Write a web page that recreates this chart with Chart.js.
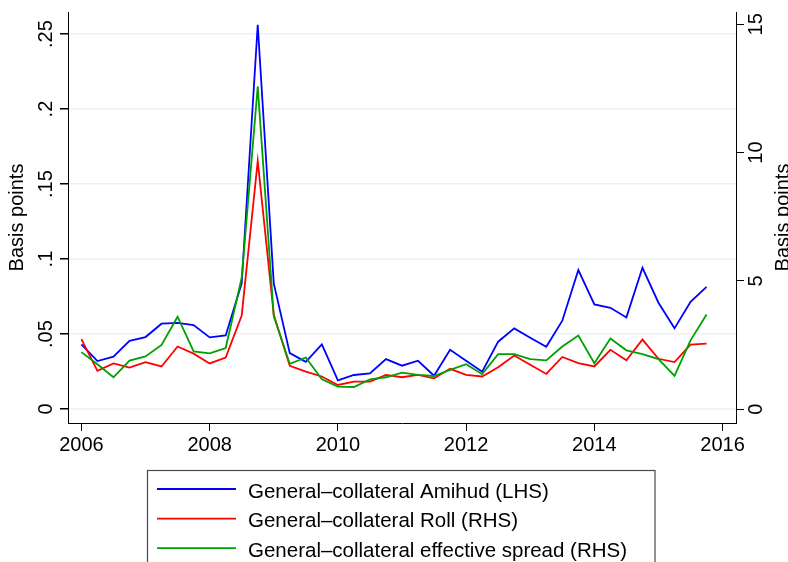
<!DOCTYPE html>
<html>
<head>
<meta charset="utf-8">
<title>General-collateral liquidity measures</title>
<script src="https://cdn.jsdelivr.net/npm/chart.js@4.4.1/dist/chart.umd.min.js"></script>
<style>
    html, body { margin: 0; padding: 0; background: #fff; overflow: hidden; }
    #wrap { position: relative; width: 788px; height: 562px; }
</style>
</head>
<body>
<div id="wrap"><canvas id="liquidityChart"></canvas></div>
<script>
"use strict";

// Quarterly observations, 2006q1 .. 2015q4
var quarters = [];
for (let y = 2006; y < 2016; y++) {
    for (let q = 0; q < 4; q++) {
        quarters.push(y + q / 4);
    }
}

// General-collateral Amihud (left axis)
var amihud = [
    0.0431, 0.0320, 0.0349, 0.0455, 0.0480, 0.0569, 0.0575, 0.0560,
    0.0478, 0.0491, 0.0838, 0.2562, 0.0838, 0.0373, 0.0315, 0.0431,
    0.0191, 0.0227, 0.0238, 0.0333, 0.0289, 0.0322, 0.0222, 0.0395,
    0.0322, 0.0249, 0.0449, 0.0538, 0.0475, 0.0415, 0.0589, 0.0927,
    0.0698, 0.0675, 0.0611, 0.0942, 0.0709, 0.0538, 0.0715, 0.0815
];

// General-collateral Roll (right axis)
var roll = [
    2.73, 1.49, 1.78, 1.62, 1.83, 1.66, 2.44, 2.16,
    1.78, 2.01, 3.65, 9.67, 3.68, 1.69, 1.46, 1.27,
    0.94, 1.07, 1.07, 1.33, 1.24, 1.33, 1.20, 1.57,
    1.33, 1.27, 1.63, 2.09, 1.73, 1.37, 2.03, 1.79,
    1.66, 2.31, 1.90, 2.71, 1.96, 1.83, 2.51, 2.55
];

// General-collateral effective spread (right axis)
var effSpread = [
    2.22, 1.75, 1.24, 1.89, 2.05, 2.50, 3.60, 2.25,
    2.17, 2.38, 5.12, 12.58, 3.62, 1.76, 2.01, 1.16,
    0.875, 0.86, 1.16, 1.24, 1.42, 1.33, 1.29, 1.53,
    1.75, 1.36, 2.14, 2.14, 1.95, 1.90, 2.44, 2.87,
    1.79, 2.75, 2.29, 2.14, 1.95, 1.29, 2.68, 3.69
];

var yearTicks = [2006, 2008, 2010, 2012, 2014, 2016];
var lhsTicks = [0, 0.05, 0.1, 0.15, 0.2, 0.25];
var rhsTicks = [0, 5, 10, 15];

var axisTitle = "Basis points";
var fontFamily = '"Liberation Sans", Arial, Helvetica, sans-serif';

function toPoints(values) {
    var points = [];
    for (let i = 0; i < values.length; i++) {
        points.push({ x: quarters[i], y: values[i] });
    }
    return points;
}

// Stata style: drop the leading zero (".05")
function lhsLabel(v) {
    return v === 0 ? "0" : String(v).replace(/^0/, "");
}

function setTicks(list) {
    return function(axis) {
        axis.ticks = list.map(function(v) { return { value: v }; });
    };
}

// Rotated y tick labels and axis titles, reading bottom to top
var uprightText = {
    id: "uprightText",
    afterDraw: function(chart) {
        var ctx = chart.ctx;
        var area = chart.chartArea;
        var left = chart.scales.lhs;
        var right = chart.scales.rhs;

        ctx.save();
        ctx.fillStyle = "#000";
        ctx.font = "20px " + fontFamily;
        ctx.textAlign = "center";
        ctx.textBaseline = "alphabetic";

        function upright(text, x, y) {
            ctx.save();
            ctx.translate(x, y);
            ctx.rotate(-Math.PI / 2);
            ctx.fillText(text, 0, 0);
            ctx.restore();
        }

        left.ticks.forEach(function(t) {
            upright(lhsLabel(t.value), left.right - 16.5, left.getPixelForValue(t.value));
        });
        right.ticks.forEach(function(t) {
            upright(String(t.value), right.left + 25.5, right.getPixelForValue(t.value));
        });

        var mid = (area.top + area.bottom) / 2;
        upright(axisTitle, 23, mid);
        upright(axisTitle, 789, mid);
        ctx.restore();
    }
};

// Boxed legend, one series per row
var boxedLegend = {
    id: "boxedLegend",
    afterDraw: function(chart) {
        var ctx = chart.ctx;
        var sets = chart.data.datasets;

        ctx.save();
        ctx.strokeStyle = "#4a4a4a";
        ctx.lineWidth = 1.2;
        ctx.strokeRect(147.5, 470.5, 507.5, 140);

        ctx.font = "20.5px " + fontFamily;
        ctx.fillStyle = "#000";
        ctx.textAlign = "left";
        ctx.textBaseline = "alphabetic";

        for (let i = 0; i < sets.length; i++) {
            var rowY = 489 + i * 29.6;
            ctx.beginPath();
            ctx.strokeStyle = sets[i].borderColor;
            ctx.lineWidth = 1.8;
            ctx.moveTo(157, rowY);
            ctx.lineTo(236, rowY);
            ctx.stroke();
            ctx.fillText(sets[i].label, 248, rowY + 8.5);
        }
        ctx.restore();
    }
};

window.onload = function() {

    var axisBorder = { display: true, color: "#000", width: 1 };

    var config = {
        type: "line",
        data: {
            datasets: [
                {
                    label: "General\u2013collateral Amihud (LHS)",
                    data: toPoints(amihud),
                    yAxisID: "lhs",
                    borderColor: "rgb(0, 0, 255)",
                    order: 3
                },
                {
                    label: "General\u2013collateral Roll (RHS)",
                    data: toPoints(roll),
                    yAxisID: "rhs",
                    borderColor: "rgb(255, 0, 0)",
                    order: 2
                },
                {
                    label: "General\u2013collateral effective spread (RHS)",
                    data: toPoints(effSpread),
                    yAxisID: "rhs",
                    borderColor: "rgb(0, 160, 0)",
                    order: 1
                }
            ]
        },
        options: {
            responsive: true,
            maintainAspectRatio: false,
            animation: false,
            events: [],
            layout: { padding: { top: 12, left: 0, right: 0, bottom: 0 } },
            elements: {
                line: { borderWidth: 1.8, tension: 0, fill: false },
                point: { radius: 0 }
            },
            plugins: {
                legend: { display: false },
                tooltip: { enabled: false }
            },
            scales: {
                x: {
                    type: "linear",
                    min: 2005.791,
                    max: 2016.209,
                    afterBuildTicks: setTicks(yearTicks),
                    afterFit: function(s) { s.height = 139; },
                    border: axisBorder,
                    grid: { drawOnChartArea: false, tickLength: 8, tickColor: "#000", lineWidth: 1 },
                    ticks: {
                        color: "#000",
                        padding: 2,
                        maxRotation: 0,
                        autoSkip: false,
                        font: { family: fontFamily, size: 20 },
                        callback: function(v) { return String(v); }
                    }
                },
                lhs: {
                    type: "linear",
                    position: "left",
                    min: -0.0093,
                    max: 0.2647,
                    afterBuildTicks: setTicks(lhsTicks),
                    afterFit: function(s) { s.width = 68; },
                    border: axisBorder,
                    grid: { color: "rgb(234, 242, 243)", lineWidth: 1.5, tickLength: 8, tickColor: "#000" },
                    ticks: { display: false }
                },
                rhs: {
                    type: "linear",
                    position: "right",
                    min: -0.543,
                    max: 15.48,
                    afterBuildTicks: setTicks(rhsTicks),
                    afterFit: function(s) { s.width = 52; },
                    border: axisBorder,
                    grid: { drawOnChartArea: false, tickLength: 8, tickColor: "#000" },
                    ticks: { display: false }
                }
            }
        },
        plugins: [uprightText, boxedLegend]
    };

    var ctx = document.getElementById("liquidityChart").getContext("2d");
    new Chart(ctx, config);
};
</script>
</body>
</html>
